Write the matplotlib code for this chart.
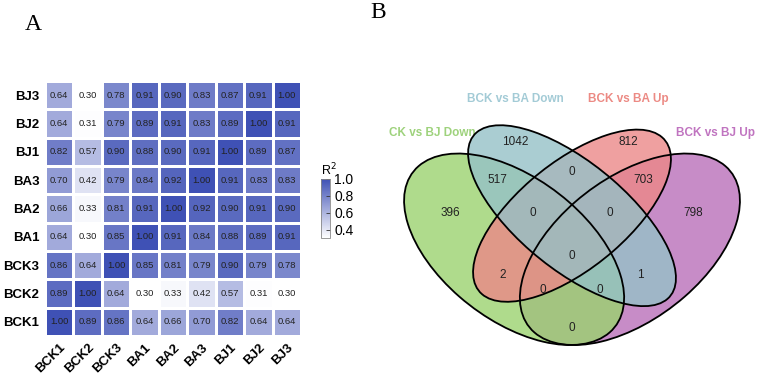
import numpy as np
import matplotlib
matplotlib.use("Agg")
import matplotlib.pyplot as plt
from matplotlib.colors import LinearSegmentedColormap
from matplotlib.patches import Ellipse

plt.rcParams['font.family'] = ['Liberation Sans', 'DejaVu Sans']

# heatmap data (rows bottom -> top, same order as columns)
samples = ["BCK1", "BCK2", "BCK3", "BA1", "BA2", "BA3", "BJ1", "BJ2", "BJ3"]
r2 = [
    [1.00, 0.89, 0.86, 0.64, 0.66, 0.70, 0.82, 0.64, 0.64],
    [0.89, 1.00, 0.64, 0.30, 0.33, 0.42, 0.57, 0.31, 0.30],
    [0.86, 0.64, 1.00, 0.85, 0.81, 0.79, 0.90, 0.79, 0.78],
    [0.64, 0.30, 0.85, 1.00, 0.91, 0.84, 0.88, 0.89, 0.91],
    [0.66, 0.33, 0.81, 0.91, 1.00, 0.92, 0.90, 0.91, 0.90],
    [0.70, 0.42, 0.79, 0.84, 0.92, 1.00, 0.91, 0.83, 0.83],
    [0.82, 0.57, 0.90, 0.88, 0.90, 0.91, 1.00, 0.89, 0.87],
    [0.64, 0.31, 0.79, 0.89, 0.91, 0.83, 0.89, 1.00, 0.91],
    [0.64, 0.30, 0.78, 0.91, 0.90, 0.83, 0.87, 0.91, 1.00],
]
cbar_ticks = [0.4, 0.6, 0.8, 1.0]

# venn data
set_names = ["CK vs BJ Down", "BCK vs BA Down", "BCK vs BA Up", "BCK vs BJ Up"]
set_colors = ["#9bd36f", "#95c1c7", "#ec8888", "#ba6fba"]
label_colors = ["#9ed27c", "#a3cbd6", "#ec8a84", "#c074c0"]
region_counts = [1042, 812, 517, 0, 703, 396, 0, 0, 798, 0, 2, 1, 0, 0, 0]

# layout of the 4-set venn (ellipse x, y, a, b, angle) and label spots
ellipses = [(0.35, 0.47, 0.35, 0.20, 135),
            (0.50, 0.57, 0.35, 0.15, 135),
            (0.50, 0.57, 0.33, 0.15, 45),
            (0.65, 0.47, 0.35, 0.20, 45)]
fill_order = [3, 0, 2, 1]  # purple first, blue last
region_pos = [(0.352, 0.789), (0.645, 0.789), (0.308, 0.676), (0.5, 0.700),
              (0.684, 0.676), (0.184, 0.578), (0.399, 0.578), (0.598, 0.578),
              (0.813, 0.578), (0.5, 0.450), (0.321, 0.393), (0.676, 0.393),
              (0.425, 0.349), (0.573, 0.349), (0.5, 0.236)]
name_pos = [(0.137, 0.816), (0.352, 0.917), (0.645, 0.917), (0.873, 0.816)]

W, H = 760, 386
fig = plt.figure(figsize=(W / 100, H / 100), dpi=100)

def box(x0, y0, x1, y1):
    return [x0 / W, 1 - y1 / H, (x1 - x0) / W, (y1 - y0) / H]

# ---- panel A: heatmap
cmap = LinearSegmentedColormap.from_list("r2", ["#ffffff", "#3f51b5"])
data = np.array(r2)
n = len(samples)
ax = fig.add_axes(box(45, 81, 301, 336))
mesh = ax.pcolormesh(np.arange(n + 1), np.arange(n + 1), data, cmap=cmap,
                     vmin=0.3, vmax=1.0, edgecolor="white", linewidth=1)
for i in range(n):
    for j in range(n):
        ax.text(j + 0.5, i + 0.5, f"{data[i, j]:.2f}", ha="center", va="center",
                fontsize=6.8, color="#222222")
ax.set_xlim(0, n)
ax.set_ylim(0, n)
ax.set_xticks(np.arange(n) + 0.5)
ax.set_yticks(np.arange(n) + 0.5)
ax.set_xticklabels(samples, rotation=45, ha="right", rotation_mode="anchor",
                   fontsize=9.5, fontweight="bold")
ax.set_yticklabels(samples, fontsize=9.5, fontweight="bold")
ax.tick_params(length=0, pad=4)
for s in ax.spines.values():
    s.set_visible(False)

cax = fig.add_axes(box(321, 179, 330, 238))
cb = fig.colorbar(mesh, cax=cax, ticks=cbar_ticks)
cb.outline.set_edgecolor("#888888")
cb.outline.set_linewidth(0.6)
cax.tick_params(direction="in", length=3, width=0.6, labelsize=10, pad=3, color="#333333")
cax.set_yticklabels([f"{t:.1f}" for t in cbar_ticks])
fig.text(321 / W, 1 - 170 / H, "R$^2$", fontsize=9, ha="left", va="center")

fig.text(33 / W, 1 - 25 / H, "A", family="Liberation Serif", fontsize=17,
         ha="center", va="center")
fig.text(378 / W, 1 - 13 / H, "B", family="Liberation Serif", fontsize=17,
         ha="center", va="center")

# ---- panel B: venn
vx = fig.add_axes(box(380, 40, 760, 386))
vx.set_xlim(0.0026, 0.987)
vx.set_ylim(0.063, 1.093)
vx.axis("off")
for k in fill_order:
    x, y, a, b, ang = ellipses[k]
    vx.add_patch(Ellipse((x, y), 2 * a, 2 * b, angle=ang, facecolor=set_colors[k],
                         alpha=0.8, edgecolor="none", zorder=2))
for (x, y, a, b, ang) in ellipses:
    vx.add_patch(Ellipse((x, y), 2 * a, 2 * b, angle=ang, facecolor="none",
                         edgecolor="black", linewidth=1.3, zorder=3))
for cnt, (x, y) in zip(region_counts, region_pos):
    vx.text(x, y, str(cnt), ha="center", va="center", fontsize=8.5,
            color="#222222", zorder=4)
for name, (x, y), c in zip(set_names, name_pos, label_colors):
    vx.text(x, y, name, ha="center", va="center", fontsize=8.5,
            fontweight="bold", color=c, zorder=1)

fig.savefig("out.png", dpi=100)
